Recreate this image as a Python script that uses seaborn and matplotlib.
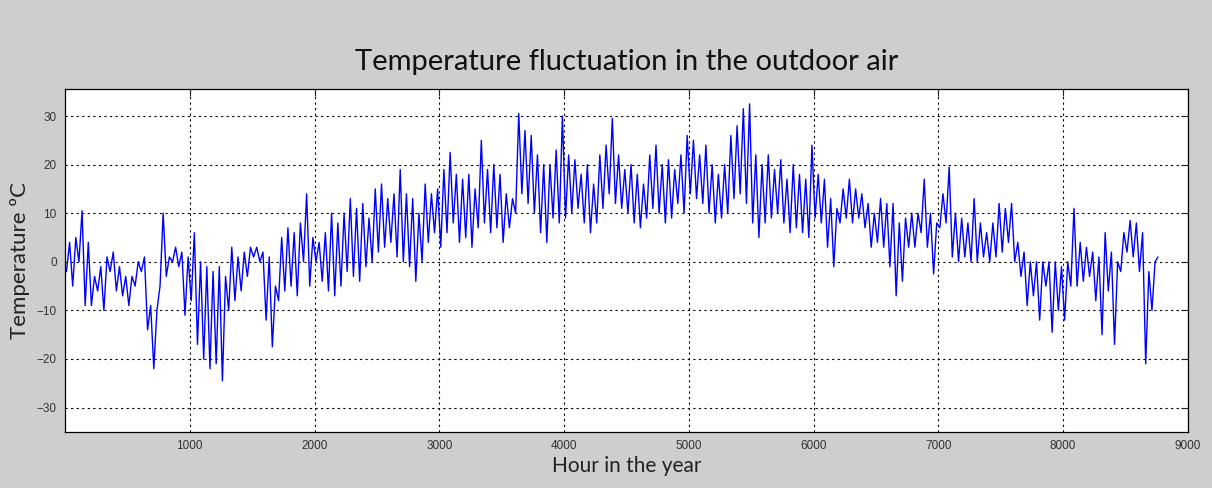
import numpy as np
import pandas as pd
import matplotlib
matplotlib.use("Agg")
import matplotlib.pyplot as plt
import seaborn as sns

# Block size (hours) used to read the trace: for each 50-hour block, the
# highest and lowest temperature seen in the picture.
block_hours = 50
block_high = [
    4, 5, 10.5, 4, -3, -1, 1, 2, -1, -3,
    -3, 0, 1, -9, -10, 10, 1, 3, 2, 1,
    6, 0, -1, -2, -1, -3, 3, 1, 2, 3,
    3, 2, 1, -5, 5, 7, 6, 8, 14, 5,
    4, 6, 10, 8, 10, 13, 11, 12, 9, 15,
    16, 13, 14, 19, 14, 13, 10, 16, 14, 15,
    19, 22.5, 18, 17, 18, 15, 25, 19, 20, 18,
    14, 13, 30.5, 27, 26, 22, 20, 20, 23, 30,
    22, 21, 18, 20, 16, 22, 24, 29.5, 22, 19,
    20, 18, 16, 22, 24, 20, 21, 19, 22, 26,
    25, 22, 24, 20, 18, 20, 26, 28, 31.5, 32.5,
    22, 20, 22, 19, 21, 17, 20, 18, 17, 24,
    18, 17, 13, 11, 15, 17, 15, 14, 12, 10,
    13, 12, 12, 8, 9, 10, 10, 17, 10, 8,
    14, 19.5, 10, 9, 8, 13, 8, 6, 8, 12,
    11, 12, 4, 2, 0, 0, 0, 0, 0, -1,
    0, 11, 4, 3, 2, 1, 6, 2, 0, 6,
    8.5, 8, 6, -2, 0,
]
block_low = [
    -2, -5, 0, -9, -9, -6, -10, -2, -6, -7,
    -9, -5, -2, -14, -22, -5, -3, 0, -1, -11,
    -8, -17, -20, -22, -21, -24.5, -10, -8, -6, -3,
    1, 0, -12, -17.5, -8, -6, -5, -7, 0, -5,
    0, -4, -6, -7, -5, -2, -3, -4, -1, 0,
    2, 3, 4, 1, 0, -1, -4, 0, 4, 6,
    3, 6, 8, 4, 5, 3, 7, 8, 6, 7,
    4, 7, 10, 14, 12, 10, 6, 4, 9, 8,
    9, 10, 11, 8, 6, 8, 11, 14, 12, 11,
    10, 8, 7, 9, 11, 10, 8, 9, 12, 10,
    14, 13, 12, 10, 8, 9, 10, 13, 14, 12,
    8, 5, 8, 9, 10, 8, 6, 7, 6, 5,
    9, 8, 3, -1, 8, 9, 8, 9, 7, 3,
    4, 3, -1, -7, -4, 3, 3, 6, 3, -2.5,
    7, 8, 1, 0, 1, 0, 0, 1, 0, 1,
    2, 4, 0, -3, -9, -7, -12, -5, -14.5, -10,
    -12, -5, -5, -4, -3, -8, -15, -6, -17, -2,
    2, 1, -2, -21, -10,
]
last_hour = 8760
last_value = 1

x_ticks = [1000, 2000, 3000, 4000, 5000, 6000, 7000, 8000, 9000]
y_ticks = [-30, -20, -10, 0, 10, 20, 30]

title = "Temperature fluctuation in the outdoor air"
x_label = "Hour in the year"
y_label = "Temperature \u00baC"

# Build the trace: within each block go from its low to its high.
starts = np.arange(len(block_high)) * block_hours
hours = np.column_stack([starts + 12, starts + 37]).ravel()
temps = np.column_stack([block_low, block_high]).ravel()
hours = np.append(hours, last_hour)
temps = np.append(temps, last_value)
df = pd.DataFrame({"hour": hours, "temp": temps})

sns.set_style("white")
plt.rcParams["font.family"] = ["Liberation Sans", "DejaVu Sans"]

fig = plt.figure(figsize=(12.12, 4.88), dpi=100)
fig.patch.set_facecolor("#cecece")
ax = fig.add_axes([0.0536, 0.115, 0.9265, 0.702])
ax.set_facecolor("white")

sns.lineplot(data=df, x="hour", y="temp", ax=ax, color="#0000ff",
             linewidth=1.0, estimator=None, sort=False)

ax.set_xlim(0, 9000)
ax.set_ylim(-35, 35.5)
ax.set_xticks(x_ticks)
ax.set_yticks(y_ticks)
ax.tick_params(axis="both", direction="in", length=5, width=0.8,
               top=True, right=True, labelsize=8.5, colors="#222222",
               pad=6)
for lab in ax.get_xticklabels() + ax.get_yticklabels():
    lab.set_color("#333333")
ax.grid(True, color="black", linestyle=(0, (2, 3)), linewidth=0.8)
for s in ax.spines.values():
    s.set_color("black")
    s.set_linewidth(0.9)

ax.set_title(title, fontsize=21, family=["Lato", "DejaVu Sans"],
             color="#111111", pad=14)
ax.set_xlabel(x_label, fontsize=15, family=["Lato", "DejaVu Sans"],
              color="#222222", labelpad=3)
ax.set_ylabel(y_label, fontsize=16, family=["Lato", "DejaVu Sans"],
              color="#222222", labelpad=5)

fig.savefig("out.png", dpi=100, facecolor=fig.get_facecolor())
